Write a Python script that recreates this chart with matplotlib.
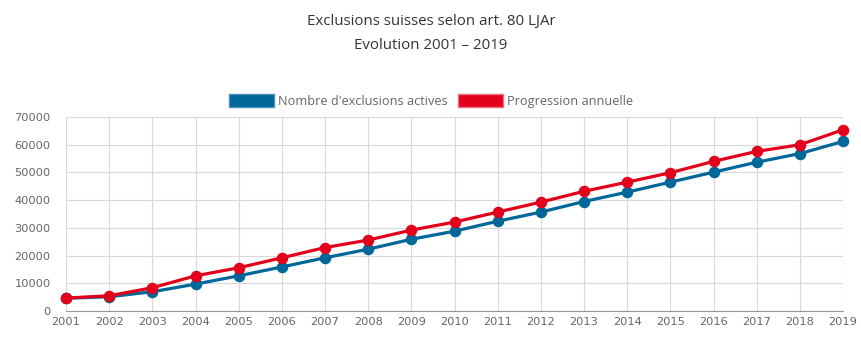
import numpy as np
import matplotlib.pyplot as plt
from matplotlib.patches import Patch

years = list(range(2001, 2020))
actives = [4600, 5150, 6950, 9700, 12700, 15900, 19200, 22300, 25900, 28800,
           32400, 35700, 39500, 42900, 46500, 50100, 53700, 56800, 61200]
progression = [4670, 5500, 8400, 12700, 15600, 19200, 22900, 25600, 29200, 32100,
               35700, 39300, 43200, 46500, 49900, 54000, 57600, 60000, 65400]

blue = '#00679a'
red = '#e2001a'
grey = '#666666'

plt.rcParams['font.family'] = ['Open Sans', 'DejaVu Sans']

fig = plt.figure(figsize=(8.62, 3.59), dpi=100)
ax = fig.add_axes([0.0766, 0.1337, 0.9014, 0.5403])

ax.plot(years, actives, color=blue, linewidth=2.3, marker='o', markersize=7.3,
        zorder=3, clip_on=False)
ax.plot(years, progression, color=red, linewidth=2.3, marker='o', markersize=7.3,
        zorder=3, clip_on=False)

ax.set_xlim(2001, 2019)
ax.set_ylim(0, 70000)
ax.set_xticks(years)
ax.set_yticks(np.arange(0, 70001, 10000))
ax.grid(True, color='#d9d9d9', linewidth=0.8)
ax.set_axisbelow(True)
for side in ['top', 'right', 'left']:
    ax.spines[side].set_visible(False)
ax.spines['bottom'].set_color('#999999')
ax.tick_params(length=0, labelsize=8.2, colors=grey, pad=4)
ax.tick_params(axis='y', pad=11)
for lab in ax.get_xticklabels() + ax.get_yticklabels():
    lab.set_family('DejaVu Sans')

fig.text(0.5, 0.94, 'Exclusions suisses selon art. 80 LJAr', ha='center', va='center',
         fontsize=10.8, color='#333333')
fig.text(0.5, 0.872, 'Evolution 2001 \u2013 2019', ha='center', va='center',
         fontsize=10.8, color='#333333')

handles = [Patch(facecolor=blue, edgecolor='#4a90b8', label="Nombre d'exclusions actives"),
           Patch(facecolor=red, edgecolor='#ee7080', label='Progression annuelle')]
fig.legend(handles=handles, loc='center', bbox_to_anchor=(0.5, 0.718), ncol=2,
           frameon=False, fontsize=9.2, labelcolor=grey, handlelength=3.5,
           handleheight=1.2, handletextpad=0.35, columnspacing=0.8)

fig.savefig('out.png', dpi=100)
